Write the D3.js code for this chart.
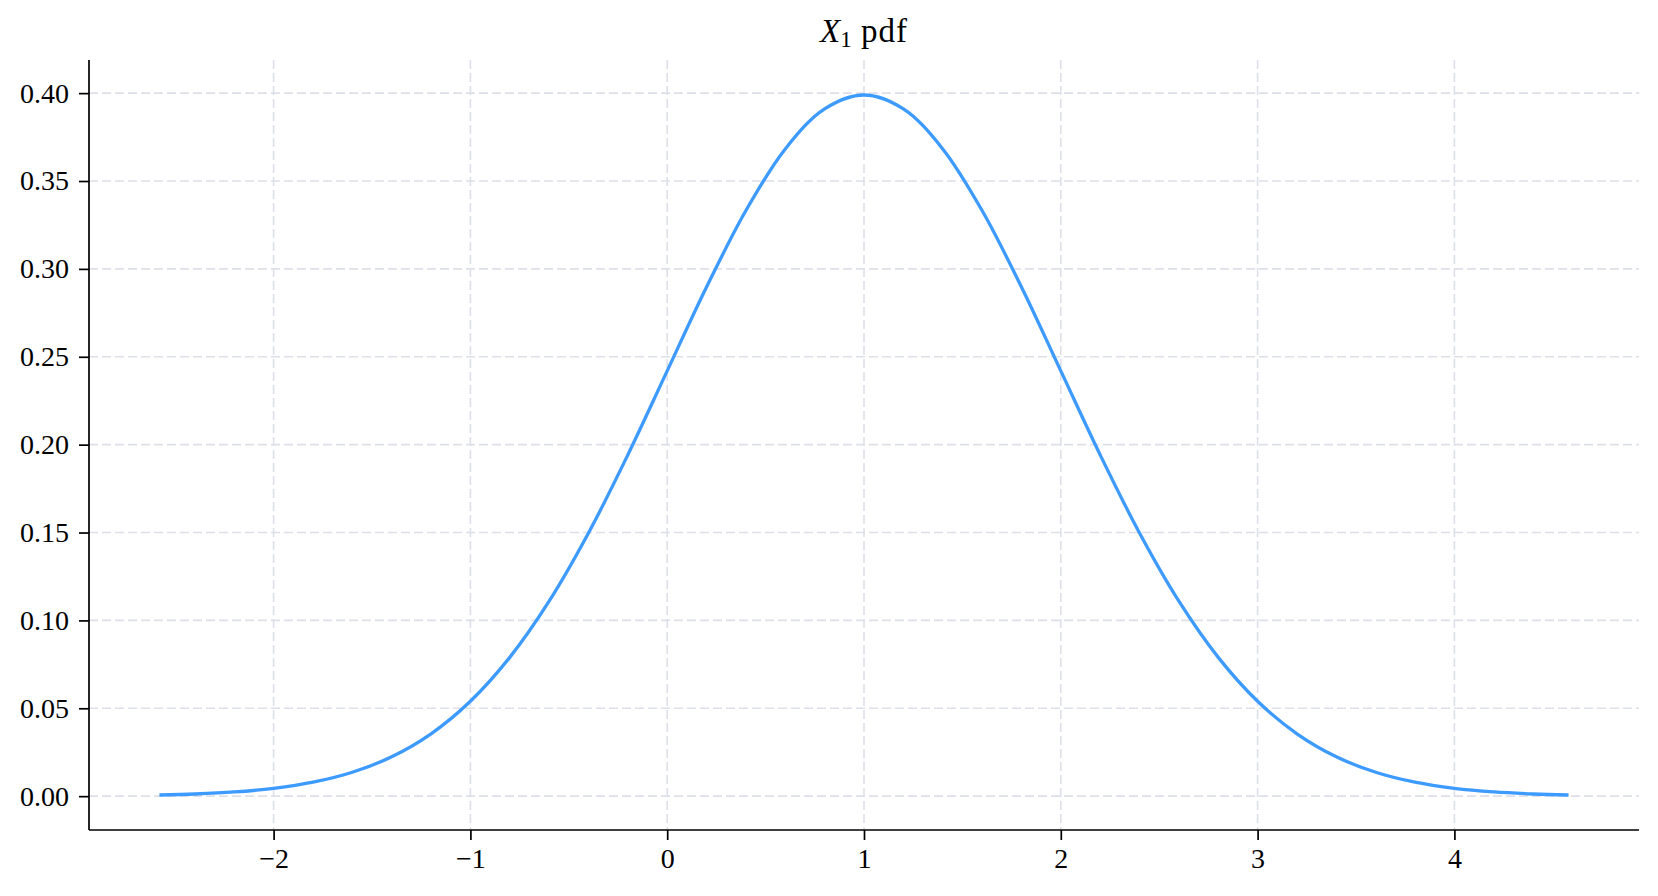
<!DOCTYPE html>
<html>
<head>
<meta charset="utf-8">
<script src="https://cdn.jsdelivr.net/npm/d3@7"></script>
<style>
  html, body { margin: 0; padding: 0; background: #fff; }
  svg { display: block; }
  text { font-family: "Liberation Serif", "DejaVu Serif", serif; fill: #000; }
</style>
</head>
<body>
<svg id="chart" width="1658" height="896"></svg>
<script>
// Data
const xValues = [-2.58, -2.4, -2.2, -2.0, -1.8, -1.6, -1.4, -1.2, -1.0, -0.8, -0.6, -0.4, -0.2,
  0.0, 0.2, 0.4, 0.6, 0.8, 1.0, 1.2, 1.4, 1.6, 1.8, 2.0, 2.2, 2.4, 2.6, 2.8, 3.0, 3.2, 3.4,
  3.6, 3.8, 4.0, 4.2, 4.4, 4.58];
const pdfValues = [0.00066, 0.00123, 0.00238, 0.00443, 0.00792, 0.01358, 0.02239, 0.03547,
  0.05399, 0.07895, 0.11092, 0.14973, 0.19419, 0.24197, 0.28969, 0.33322, 0.36827, 0.39104,
  0.39894, 0.39104, 0.36827, 0.33322, 0.28969, 0.24197, 0.19419, 0.14973, 0.11092, 0.07895,
  0.05399, 0.03547, 0.02239, 0.01358, 0.00792, 0.00443, 0.00238, 0.00123, 0.00066];
const xTicks = [-2, -1, 0, 1, 2, 3, 4];
const yTicks = [0.00, 0.05, 0.10, 0.15, 0.20, 0.25, 0.30, 0.35, 0.40];
const titleMain = "X";
const titleSub = "1";
const titleRest = " pdf";

const points = xValues.map((x, i) => ({ x, y: pdfValues[i] }));

const svg = d3.select("#chart");
const mLeft = 89, mRight = 1639, mTop = 60, mBottom = 830;

const xExt = d3.extent(xValues), xPad = (xExt[1] - xExt[0]) * 0.05;
const yExt = d3.extent(pdfValues), yPad = (yExt[1] - yExt[0]) * 0.05;

const x = d3.scaleLinear().domain([xExt[0] - xPad, xExt[1] + xPad]).range([mLeft, mRight]);
const y = d3.scaleLinear().domain([yExt[0] - yPad, yExt[1] + yPad]).range([mBottom, mTop]);

// grid
const grid = svg.append("g").attr("stroke", "#dde0e8").attr("stroke-width", 1.6)
  .attr("stroke-dasharray", "9,4").attr("fill", "none");
grid.selectAll(".gx").data(xTicks).join("line")
  .attr("x1", d => x(d)).attr("x2", d => x(d)).attr("y1", mTop).attr("y2", mBottom);
grid.selectAll(".gy").data(yTicks).join("line")
  .attr("x1", mLeft).attr("x2", mRight).attr("y1", d => y(d)).attr("y2", d => y(d));

// line
const line = d3.line().x(d => x(d.x)).y(d => y(d.y)).curve(d3.curveCatmullRom.alpha(0.5));
svg.append("path").datum(points).attr("d", line)
  .attr("fill", "none").attr("stroke", "#3d9aff").attr("stroke-width", 3.3)
  .attr("stroke-linecap", "butt").attr("stroke-linejoin", "round");

// axes
const fmtX = d => (d < 0 ? "\u2212" + Math.abs(d) : String(d));
const xAxis = d3.axisBottom(x).tickValues(xTicks).tickFormat(fmtX).tickSize(10).tickPadding(8).tickSizeOuter(0);
const yAxis = d3.axisLeft(y).tickValues(yTicks).tickFormat(d3.format(".2f")).tickSize(10).tickPadding(10).tickSizeOuter(0);

const gx = svg.append("g").attr("transform", `translate(0,${mBottom})`).call(xAxis);
const gy = svg.append("g").attr("transform", `translate(${mLeft},0)`).call(yAxis);
[gx, gy].forEach(g => {
  g.select(".domain").attr("stroke", "#000").attr("stroke-width", 1.7);
  g.selectAll(".tick line").attr("stroke", "#000").attr("stroke-width", 1.7);
  g.selectAll(".tick text").attr("font-family", "'Liberation Serif', serif")
    .attr("font-size", 28).attr("fill", "#000");
});
gy.select(".domain").attr("d", `M0,${mBottom}V${mTop}`);
gx.select(".domain").attr("d", `M${mLeft},0H${mRight}`);

// title
const t = svg.append("text").attr("x", (mLeft + mRight) / 2).attr("y", 42)
  .attr("text-anchor", "middle").attr("font-size", 33);
t.append("tspan").attr("font-style", "italic").text(titleMain);
t.append("tspan").attr("font-size", 23).attr("dy", 5).text(titleSub);
t.append("tspan").attr("dy", -5).attr("letter-spacing", 1).text(titleRest);
</script>
</body>
</html>
